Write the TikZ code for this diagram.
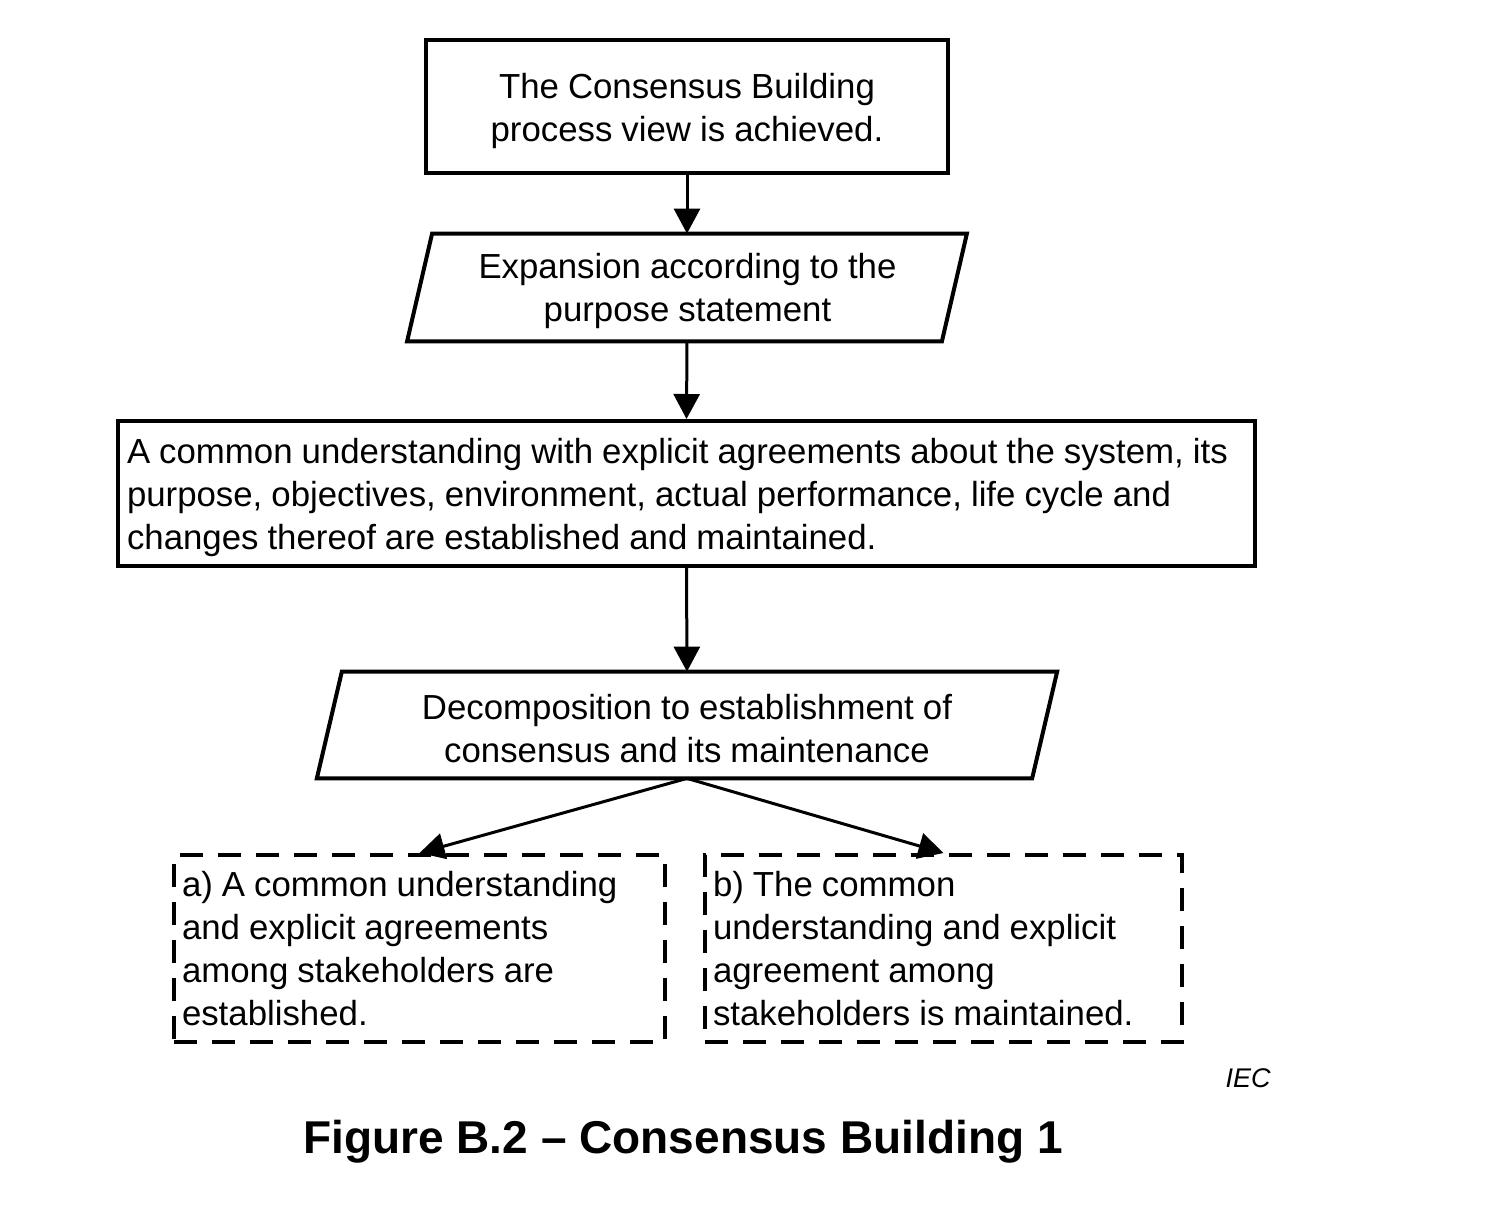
\documentclass[tikz,border=0pt]{standalone}
\usepackage{fontspec}
\setmainfont{Liberation Sans}
\usetikzlibrary{arrows.meta}
\newlength{\mywordspace}
\begin{document}
\begin{tikzpicture}[x=0.5pt,y=-0.5pt,
 txt/.style={font=\fontsize{17.4}{21.5}\selectfont,inner sep=0pt,
   execute at begin node={\setlength{\mywordspace}{0.26em}\spaceskip=\mywordspace\relax}},
 solidbox/.style={draw,line width=2pt,rectangle,inner sep=0pt},
 parabody/.style={rectangle,inner sep=0pt},
 paraedge/.style={line width=2pt,line join=miter},
 dashbox/.style={draw,line width=2pt,dash pattern=on 11.5pt off 7.5pt,rectangle,inner sep=0pt},
 arr/.style={line width=1.5pt,-{Triangle[length=12.5pt,width=13pt]}}]
\path[use as bounding box,fill=white] (0,0) rectangle (1490,1210);

% boxes
\node[solidbox,minimum width=261pt,minimum height=66.5pt] (goal) at (687,106.5) {};
\node[parabody,minimum width=267pt,minimum height=53.5pt] (exp) at (687,287.5) {};
\draw[paraedge] ([xshift=6.25pt]exp.north west) -- ([xshift=6.25pt]exp.north east)
  -- ([xshift=-6.25pt]exp.south east) -- ([xshift=-6.25pt]exp.south west) -- cycle;
\node[solidbox,minimum width=568.5pt,minimum height=72.5pt] (common) at (686.5,493.5) {};
\node[parabody,minimum width=357.25pt,minimum height=53pt] (dec) at (687,725) {};
\draw[paraedge] ([xshift=6.25pt]dec.north west) -- ([xshift=6.25pt]dec.north east)
  -- ([xshift=-6.25pt]dec.south east) -- ([xshift=-6.25pt]dec.south west) -- cycle;
\node[dashbox,minimum width=245.5pt,minimum height=93.5pt] (a) at (419.5,948.5) {};
\node[dashbox,minimum width=238.5pt,minimum height=93.5pt] (b) at (943.5,948.5) {};

% texts
\node[txt,align=center] (goaltext) at (687,111.5)
  {The Consensus Building\\process view is achieved.};
\node[txt,align=center] (exptext) at (687.5,291.5)
  {Expansion according to the\\purpose statement};
\node[txt,align=left,text width=559.5pt] (commontext) at (686.5,497.5)
  {A common understanding with explicit agreements about the system, its\\purpose, objectives, environment, actual performance, life cycle and\\changes thereof are established and maintained.};
\node[txt,align=center] (dectext) at (687,729)
  {Decomposition to establishment of\\consensus and its maintenance};
\node[txt,align=left,text width=237.5pt] (atext) at (419.5,948.5)
  {a) A common understanding\\and explicit agreements\\among stakeholders are\\established.};
\node[txt,align=left,text width=230.5pt] (btext) at (943.5,948.5)
  {b) The common\\understanding and explicit\\agreement among\\stakeholders is maintained.};

% connectors
\draw[arr] (goal.south) -- (exp.north);
\draw[arr] (exp.south) -- (common.north);
\draw[arr] (common.south) -- (dec.north);
\draw[arr] (dec.south) -- (a.north);
\draw[arr] (dec.south) -- (b.north);

\node[font=\fontsize{13.5}{16}\selectfont\itshape] (iec) at (1248,1078) {IEC};
\node[font=\fontsize{23}{28}\selectfont\bfseries] (cap) at (683,1142) {Figure B.2 -- Consensus Building 1};
\end{tikzpicture}
\end{document}
